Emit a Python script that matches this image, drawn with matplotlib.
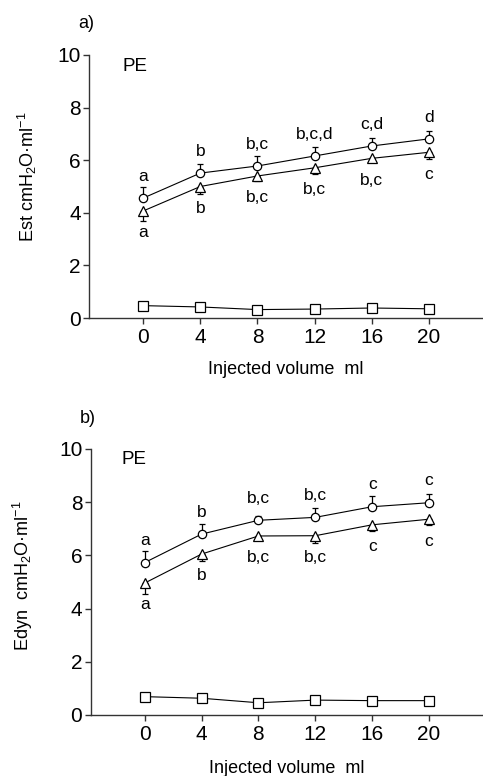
import matplotlib
matplotlib.use("Agg")
import matplotlib.pyplot as plt

plt.rcParams['font.family'] = ['Liberation Sans', 'DejaVu Sans']
plt.rcParams['mathtext.fontset'] = 'custom'
plt.rcParams['mathtext.rm'] = 'Liberation Sans'
plt.rcParams['mathtext.it'] = 'Liberation Sans:italic'
plt.rcParams['mathtext.bf'] = 'Liberation Sans:bold'

# ---- data ----
volume = [0, 4, 8, 12, 16, 20]
xticks = [0, 4, 8, 12, 16, 20]
yticks = [0, 2, 4, 6, 8, 10]

est_circle = [4.56, 5.51, 5.78, 6.16, 6.54, 6.81]
est_circle_err = [0.42, 0.35, 0.38, 0.34, 0.30, 0.30]
est_triangle = [4.07, 5.00, 5.40, 5.71, 6.07, 6.30]
est_triangle_err = [0.38, 0.30, 0.20, 0.25, 0.10, 0.25]
est_square = [0.47, 0.42, 0.32, 0.34, 0.38, 0.35]
est_labels_above = ["a", "b", "b,c", "b,c,d", "c,d", "d"]
est_labels_below = ["a", "b", "b,c", "b,c", "b,c", "c"]

edyn_circle = [5.73, 6.80, 7.32, 7.43, 7.83, 7.98]
edyn_circle_err = [0.45, 0.37, 0.15, 0.37, 0.40, 0.32]
edyn_triangle = [4.96, 6.05, 6.73, 6.74, 7.15, 7.36]
edyn_triangle_err = [0.40, 0.26, 0.05, 0.26, 0.23, 0.22]
edyn_square = [0.69, 0.63, 0.46, 0.56, 0.54, 0.54]
edyn_labels_above = ["a", "b", "b,c", "b,c", "c", "c"]
edyn_labels_below = ["a", "b", "b,c", "b,c", "c", "c"]

fig = plt.figure(figsize=(4.83, 7.76), dpi=100)

spine_col = '#333333'


def panel(rect, circ, circ_err, tri, tri_err, sq, lab_up, lab_dn,
          ylabel, panel_tag, tag_pos, ylab_coords, xlab_y, pe_pos):
    ax = fig.add_axes(rect)
    ax.set_xlim(-3.8, 23.8)
    ax.set_ylim(0, 10)
    for s in ('top', 'right'):
        ax.spines[s].set_visible(False)
    for s in ('left', 'bottom'):
        ax.spines[s].set_color(spine_col)
        ax.spines[s].set_linewidth(1.0)
    ax.set_xticks(xticks)
    ax.set_yticks(yticks)
    ax.tick_params(axis='both', direction='out', length=4, width=1.0,
                   color=spine_col, labelsize=15, pad=2)
    ax.tick_params(axis='x', pad=3)

    # squares
    ax.plot(volume, sq, '-', color='black', lw=0.8, marker='s', ms=6.5,
            mfc='white', mec='black', mew=0.9, zorder=3)
    # triangles with downward error bars
    ax.errorbar(volume, tri, yerr=[tri_err, [0] * len(tri_err)], fmt='-',
                color='black', lw=0.8, elinewidth=0.9, capsize=2.2,
                capthick=0.9, marker='^', ms=6.5, mfc='white', mec='black',
                mew=0.9, zorder=3)
    # circles with upward error bars
    ax.errorbar(volume, circ, yerr=[[0] * len(circ_err), circ_err], fmt='-',
                color='black', lw=0.8, elinewidth=0.9, capsize=2.2,
                capthick=0.9, marker='o', ms=6, mfc='white', mec='black',
                mew=0.9, zorder=4)

    for x, y, t in zip(volume, circ, lab_up):
        ax.annotate(t, (x, y), xytext=(0, 12.5), textcoords='offset points',
                    ha='center', va='baseline', fontsize=12.5)
    for x, y, t in zip(volume, tri, lab_dn):
        ax.annotate(t, (x, y), xytext=(0, -19), textcoords='offset points',
                    ha='center', va='baseline', fontsize=12.5)

    ax.text(pe_pos[0], pe_pos[1], 'PE', transform=ax.transAxes,
            ha='left', va='center', fontsize=13.5)
    ax.set_ylabel(ylabel, fontsize=13)
    ax.yaxis.set_label_coords(*ylab_coords)
    ax.set_xlabel('Injected volume  ml', fontsize=13)
    ax.xaxis.set_label_coords(0.5, xlab_y)
    fig.text(tag_pos[0], tag_pos[1], panel_tag, ha='left', va='center',
             fontsize=13)
    return ax


panel([89 / 483, 1 - 318 / 776, (483 - 89) / 483, 263 / 776],
      est_circle, est_circle_err, est_triangle, est_triangle_err, est_square,
      est_labels_above, est_labels_below,
      r'Est cmH$_\mathrm{2}$O·ml$^\mathrm{-1}$', 'a)', (78 / 483, 1 - 23 / 776),
      (-0.128, 0.538), -0.163, (0.084, 0.958))

panel([90.7 / 483, 1 - 715 / 776, (483 - 90.7) / 483, 266 / 776],
      edyn_circle, edyn_circle_err, edyn_triangle, edyn_triangle_err,
      edyn_square, edyn_labels_above, edyn_labels_below,
      r'Edyn  cmH$_\mathrm{2}$O·ml$^\mathrm{-1}$', 'b)',
      (80 / 483, 1 - 418.3 / 776), (-0.143, 0.524), -0.17, (0.079, 0.962))

fig.savefig('out.png', dpi=100)
